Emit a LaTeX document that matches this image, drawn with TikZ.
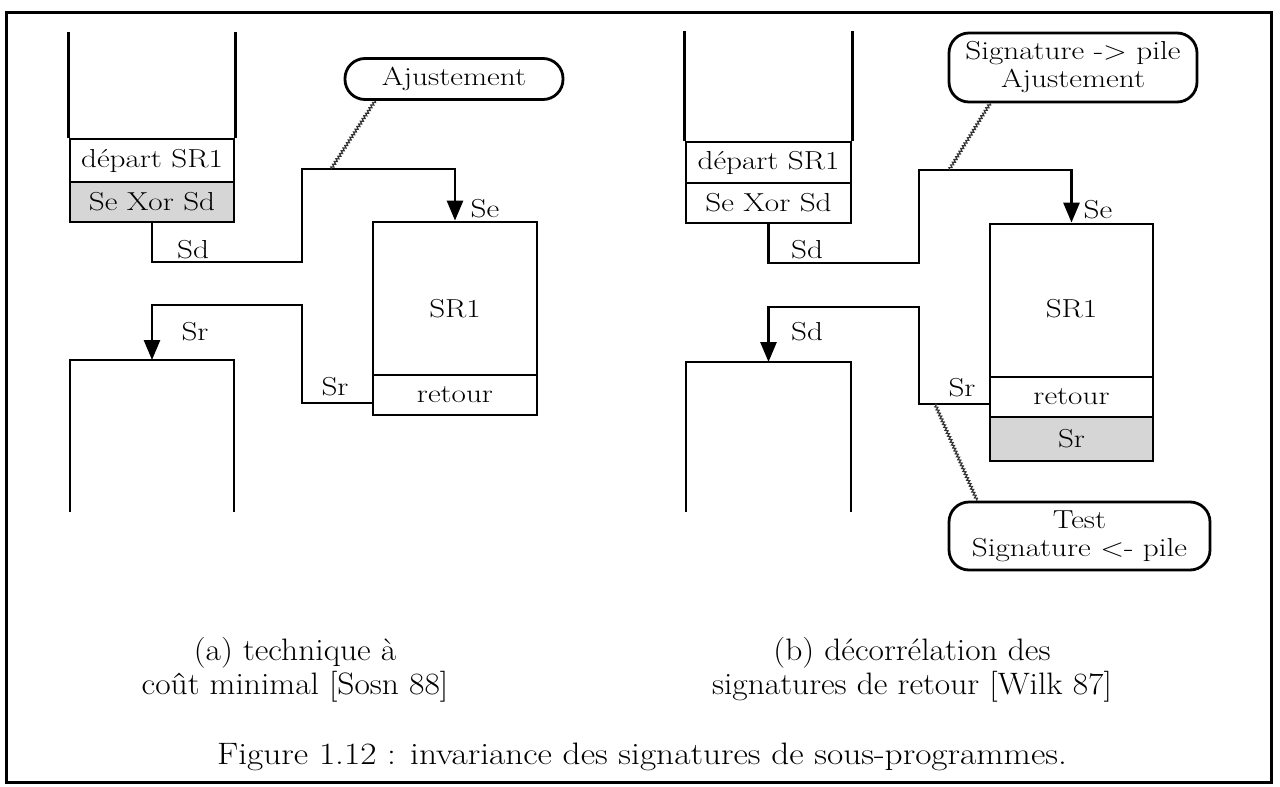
\documentclass[tikz,border=0pt]{standalone}
\usetikzlibrary{arrows.meta,decorations.pathmorphing,calc}
\newcommand{\dtxt}[1]{\scalebox{1.2}[1]{#1}}
\newcommand{\ctxt}[1]{\scalebox{1.08}[1]{#1}}
\newcommand{\ftxt}[1]{\scalebox{1.14}[1]{#1}}
\newcommand{\dfont}{\fontsize{26}{28}\selectfont}
\newcommand{\cfont}{\fontsize{31}{33}\selectfont}
\definecolor{shade}{gray}{0.84}
\begin{document}
\begin{tikzpicture}[x=1pt,y=-1pt,
  ln/.style={line width=2.8pt},
  arr/.style={line width=2.8pt,-{Triangle[width=16pt,length=20pt]}},
  cell/.style={draw,line width=2.8pt,inner sep=0pt,font=\dfont},
  callout/.style={draw,line width=2.8pt,rounded corners=20pt,inner sep=0pt,font=\dfont,align=center},
  lbl/.style={font=\dfont,inner sep=0pt},
  captxt/.style={font=\cfont,inner sep=0pt,anchor=base},
  wavy/.style={decorate,decoration={snake,amplitude=1.3pt,segment length=3.2pt},line width=1.2pt,black!80}]
\useasboundingbox (0,0) rectangle (1280,787);
\draw[line width=3pt] (6,12) rectangle (1271,782);

% ---------- panel (a) ----------
\node[cell,minimum width=164pt,minimum height=43pt] (depa) at (152,160.5) {\dtxt{départ SR1}};
\node[cell,fill=shade,minimum width=164pt,minimum height=40pt] (sexa) at (152,202) {\dtxt{Se Xor Sd}};
\draw[ln] (depa.north west) -- ++(0,-106);
\draw[ln] (depa.north east) -- ++(0,-106);
\node[cell,minimum width=164pt,minimum height=153pt,label={[lbl,yshift=-10pt]center:\dtxt{SR1}}] (sra) at (455,298.5) {};
\node[cell,minimum width=164pt,minimum height=40pt] (reta) at (455,395) {\dtxt{retour}};
\coordinate (bla) at (152,360);
\draw[ln] ($(bla)+(-82,152)$) -- ($(bla)+(-82,0)$) -- ($(bla)+(82,0)$) -- ($(bla)+(82,152)$);
\draw[arr] (sexa.south) |- (302,262) -- (302,169) -| (sra.north);
\draw[arr] ([yshift=-8pt]reta.west) -| (302,305) -| (bla);
\node[lbl] (lsda) at (193,250) {\dtxt{Sd}};
\node[lbl] (lsea) at (485,209) {\dtxt{Se}};
\node[lbl] (lsra) at (195,332) {\dtxt{Sr}};
\node[lbl] (lsrb) at (335,387) {\dtxt{Sr}};
\node[callout,minimum width=218pt,minimum height=41pt] (cala) at (454,79) {\dtxt{Ajustement}};
\coordinate (ja) at (331,169);
\draw[wavy] ([xshift=-79pt]cala.south) -- (ja);

% ---------- panel (b) ----------
\node[cell,minimum width=165pt,minimum height=41pt] (depb) at (768.5,162.5) {\dtxt{départ SR1}};
\node[cell,minimum width=165pt,minimum height=40pt] (sexb) at (768.5,203) {\dtxt{Se Xor Sd}};
\draw[ln] (depb.north west) -- ++(0,-110);
\draw[ln] (depb.north east) -- ++(0,-110);
\node[cell,minimum width=163pt,minimum height=153pt,label={[lbl,yshift=-8pt]center:\dtxt{SR1}}] (srb) at (1071.5,300.5) {};
\node[cell,minimum width=163pt,minimum height=40pt] (retb) at (1071.5,397) {\dtxt{retour}};
\node[cell,fill=shade,minimum width=163pt,minimum height=44pt] (srrb) at (1071.5,439) {\dtxt{Sr}};
\coordinate (blb) at (768.5,362);
\draw[ln] ($(blb)+(-82.5,150)$) -- ($(blb)+(-82.5,0)$) -- ($(blb)+(82.5,0)$) -- ($(blb)+(82.5,150)$);
\draw[arr] (sexb.south) |- (919,263) -- (919,170) -| (srb.north);
\draw[arr] ([yshift=-7pt]retb.west) -| (919,307) -| (blb);
\node[lbl] (lsdb) at (807,250) {\dtxt{Sd}};
\node[lbl] (lseb) at (1098,210) {\dtxt{Se}};
\node[lbl] (lsdc) at (807,332) {\dtxt{Sd}};
\node[lbl] (lsrc) at (962,388) {\dtxt{Sr}};
\node[callout,minimum width=248pt,minimum height=69pt] (calb) at (1073,67.5) {\dtxt{Signature -> pile}\\\dtxt{Ajustement}};
\coordinate (jb) at (949,170);
\draw[wavy] ([xshift=-83pt]calb.south) -- (jb);
\node[callout,minimum width=261pt,minimum height=68pt] (calbb) at (1079.5,536) {\dtxt{Test}\\\dtxt{Signature <- pile}};
\coordinate (jc) at (935,404);
\draw[wavy] (jc) -- ([xshift=-102.5pt]calbb.north);

% ---------- captions ----------
\node[captxt] (capa1) at (295,660) {\ctxt{(a) technique à}};
\node[captxt] (capa2) at (295,694) {\ctxt{coût minimal [Sosn 88]}};
\node[captxt] (capb1) at (912,660) {\ctxt{(b) décorrélation des}};
\node[captxt] (capb2) at (912,694) {\ctxt{signatures de retour [Wilk 87]}};
\node[captxt] (figc) at (642,764) {\ftxt{Figure 1.12 : invariance des signatures de sous-programmes.}};
\end{tikzpicture}
\end{document}
